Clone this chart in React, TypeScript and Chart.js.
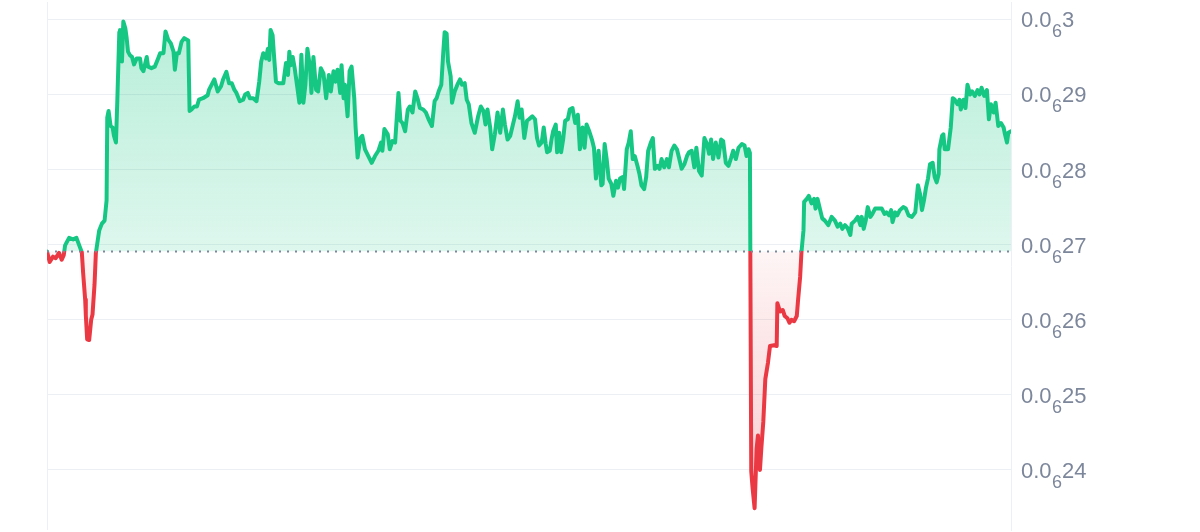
import React, { useEffect, useRef } from "react";
import { Chart, registerables } from "chart.js";

Chart.register(...registerables);

// minutes since the start of the day
const TIMES = [0,4,9,13,18,22,25,27,33,39,44,49,52,54,57,58,60,63,66,68,71,73,74,78,82,86,89,90,92,95,98,100,103,105,108,109,112,114,117,119,121,124,127,130,134,139,141,144,149,151,156,161,166,169,174,177,181,185,189,191,194,197,201,205,209,211,213,216,220,224,227,233,240,242,246,250,255,260,263,268,272,276,280,283,288,293,296,300,303,308,313,317,320,323,327,330,332,334,337,339,342,346,353,357,360,362,364,367,370,374,377,380,383,386,389,393,395,398,402,405,409,413,417,421,424,428,431,434,438,440,443,445,449,452,455,459,461,464,468,471,475,480,485,490,495,499,501,504,509,512,516,520,525,528,531,535,539,542,546,550,554,557,562,566,570,575,579,582,585,589,592,594,597,599,603,605,609,613,617,620,624,627,630,634,639,644,648,652,655,658,662,665,669,673,677,681,684,688,692,696,699,703,706,709,713,717,720,725,729,732,735,739,742,745,747,751,754,756,760,762,765,768,771,774,778,781,785,789,793,796,800,803,806,810,814,817,820,824,828,830,833,836,839,843,846,850,853,856,860,862,866,869,872,875,878,882,885,888,892,895,898,902,905,908,912,915,918,922,926,929,933,937,941,944,948,952,956,959,963,967,970,974,978,982,986,989,992,995,999,1003,1007,1010,1014,1018,1022,1025,1029,1033,1038,1042,1045,1048,1050,1052,1054,1057,1060,1062,1065,1067,1070,1073,1077,1080,1086,1090,1091,1095,1099,1102,1106,1109,1112,1116,1120,1122,1125,1127,1130,1131,1135,1138,1142,1146,1148,1151,1155,1158,1162,1167,1172,1177,1181,1185,1188,1192,1196,1200,1202,1207,1211,1215,1217,1220,1223,1226,1230,1233,1237,1242,1247,1251,1254,1258,1261,1263,1267,1270,1274,1279,1283,1287,1292,1297,1301,1304,1307,1310,1313,1316,1319,1323,1326,1329,1332,1333,1337,1339,1341,1346,1350,1353,1356,1360,1363,1365,1369,1372,1375,1379,1382,1386,1390,1393,1396,1400,1404,1407,1410,1414,1417,1421,1425,1429,1431,1434,1436,1440];

// price in units of 1e-8
const PRICES_E8 = [26.91,26.77,26.84,26.82,26.89,26.80,26.86,26.99,27.09,27.07,27.09,26.97,26.90,26.62,26.27,26.06,25.74,25.73,26.00,26.07,26.47,26.89,26.95,27.19,27.28,27.32,27.59,28.69,28.78,28.58,28.56,28.45,28.36,28.91,29.83,29.86,29.44,29.97,29.88,29.75,29.57,29.52,29.50,29.40,29.48,29.48,29.35,29.31,29.50,29.37,29.35,29.37,29.48,29.55,29.55,29.84,29.73,29.68,29.57,29.33,29.55,29.55,29.70,29.75,29.73,29.72,28.78,28.80,28.84,28.84,28.93,28.95,28.99,29.06,29.13,29.20,29.04,29.11,29.20,29.30,29.15,29.15,29.06,29.02,28.91,28.93,29.00,29.02,28.95,28.95,28.91,29.17,29.44,29.55,29.48,29.61,29.46,29.86,29.79,29.53,29.17,29.15,29.15,29.42,29.26,29.57,29.39,29.50,29.35,29.09,28.89,29.53,28.89,29.13,29.61,29.35,29.02,29.50,29.06,29.04,29.35,29.28,28.95,29.26,29.04,29.31,29.17,29.33,29.02,29.39,28.95,29.13,28.71,29.31,29.37,28.95,28.56,28.16,28.42,28.45,28.27,28.18,28.09,28.18,28.25,28.36,28.25,28.54,28.47,28.27,28.38,28.36,29.02,28.65,28.62,28.51,28.80,28.84,28.76,29.04,28.93,28.82,28.80,28.76,28.67,28.58,28.91,28.95,29.04,29.13,29.57,29.83,29.81,29.44,29.24,28.89,29.04,29.13,29.20,29.13,29.15,28.93,28.87,28.62,28.49,28.71,28.84,28.78,28.60,28.80,28.56,28.27,28.47,28.76,28.49,28.80,28.60,28.40,28.45,28.60,28.71,28.91,28.69,28.80,28.42,28.65,28.67,28.71,28.67,28.42,28.32,28.36,28.56,28.34,28.23,28.25,28.42,28.51,28.60,28.23,28.49,28.23,28.40,28.65,28.67,28.80,28.82,28.62,28.73,28.27,28.56,28.29,28.60,28.51,28.40,28.29,27.88,28.25,27.79,27.81,28.34,28.14,27.88,27.81,27.65,27.85,27.76,27.88,27.90,27.74,28.27,28.36,28.51,28.14,28.18,28.05,27.94,27.79,27.74,27.90,28.25,28.36,28.42,28.01,28.05,28.01,28.14,28.03,28.14,28.03,28.25,28.32,28.27,28.16,28.01,28.07,28.18,28.23,28.25,28.03,28.29,27.98,27.92,28.42,28.34,28.21,28.40,28.14,28.36,28.16,28.40,28.38,28.09,28.05,28.16,28.25,28.14,28.29,28.34,28.32,28.18,28.27,28.22,23.98,23.76,23.49,24.28,24.46,24.00,24.28,24.64,25.21,25.43,25.65,25.66,25.65,26.22,26.11,26.13,26.05,26.02,25.96,26.00,25.98,26.05,26.27,26.57,26.90,27.19,27.57,27.61,27.65,27.55,27.61,27.48,27.61,27.46,27.35,27.32,27.26,27.37,27.32,27.24,27.28,27.21,27.26,27.22,27.13,27.28,27.32,27.37,27.26,27.37,27.21,27.32,27.50,27.37,27.41,27.48,27.48,27.48,27.41,27.43,27.39,27.46,27.30,27.43,27.39,27.46,27.50,27.48,27.39,27.37,27.43,27.79,27.68,27.46,27.59,27.76,27.88,28.07,28.09,27.90,27.83,27.94,28.27,28.45,28.47,28.27,28.27,28.56,28.95,28.93,28.87,28.93,28.80,28.93,28.82,29.13,29.00,29.04,28.98,29.06,29.00,29.09,28.98,29.06,28.67,28.87,28.76,28.89,28.58,28.62,28.56,28.47,28.36,28.49,28.51];

const UNIT = 1e-8;
const TICK_VALUES_E8 = [24, 25, 26, 27, 28, 29, 30];
const TICK_PREFIX = "0.0";
const TICK_ZERO_COUNT = "6";
const TICK_DIGITS = ["24", "25", "26", "27", "28", "29", "3"];
const Y_MIN_E8 = 23.2005;
const Y_MAX_E8 = 30.2313;

const GREEN = "#16c784";
const RED = "#ea3943";
const GRID = "#eceff3";
const LABEL = "#7d879b";
const FONT = "'Liberation Sans', Arial, sans-serif";

export default function App() {
  const ref = useRef<HTMLCanvasElement>(null);

  useEffect(() => {
    const canvas = ref.current;
    if (!canvas) return;
    const prices = PRICES_E8.map((v) => v * UNIT);
    const base = prices[0];
    const points = TIMES.map((t, i) => ({ x: t, y: prices[i] }));

    const overlay = {
      id: "overlay",
      beforeDatasetsDraw(chart: any) {
        const { ctx, chartArea } = chart;
        ctx.save();
        ctx.strokeStyle = GRID;
        ctx.lineWidth = 1;
        ctx.beginPath();
        ctx.moveTo(chartArea.left + 0.5, chartArea.top);
        ctx.lineTo(chartArea.left + 0.5, chartArea.bottom);
        ctx.stroke();
        ctx.restore();
      },
      afterDatasetsDraw(chart: any) {
        const { ctx, chartArea, scales } = chart;
        const by = scales.y.getPixelForValue(base);
        ctx.save();
        ctx.setLineDash([2, 6]);
        ctx.strokeStyle = LABEL;
        ctx.lineWidth = 2;
        ctx.beginPath();
        ctx.moveTo(chartArea.left, by);
        ctx.lineTo(chartArea.right, by);
        ctx.stroke();
        ctx.restore();
      },
      afterDraw(chart: any) {
        const { ctx, chartArea, scales } = chart;
        ctx.save();
        ctx.fillStyle = LABEL;
        ctx.textBaseline = "alphabetic";
        ctx.textAlign = "left";
        TICK_VALUES_E8.forEach((v, i) => {
          const py = scales.y.getPixelForValue(v * UNIT);
          let x = chartArea.right + 10;
          ctx.font = `22px ${FONT}`;
          ctx.fillText(TICK_PREFIX, x, py + 8);
          x += ctx.measureText(TICK_PREFIX).width;
          ctx.font = `18px ${FONT}`;
          ctx.fillText(TICK_ZERO_COUNT, x + 0.5, py + 18);
          x += ctx.measureText(TICK_ZERO_COUNT).width + 0.5;
          ctx.font = `22px ${FONT}`;
          ctx.fillText(TICK_DIGITS[i], x, py + 8);
        });
        ctx.restore();
      },
    };

    const chart = new Chart(canvas, {
      type: "line",
      data: {
        datasets: [
          {
            data: points,
            borderColor: GREEN,
            borderWidth: 4,
            borderJoinStyle: "round",
            borderCapStyle: "round",
            pointRadius: 0,
            pointHoverRadius: 0,
            tension: 0,
            fill: { target: { value: base }, above: "rgba(22,199,132,0.2)", below: "rgba(234,57,67,0.1)" },
          } as any,
        ],
      },
      options: {
        animation: false,
        responsive: true,
        maintainAspectRatio: false,
        layout: { padding: { left: 47, top: 0, right: 0, bottom: 0 } },
        plugins: { legend: { display: false }, tooltip: { enabled: false } },
        events: [],
        scales: {
          x: { type: "linear", min: 0, max: 1440, display: false },
          y: {
            position: "right",
            min: Y_MIN_E8 * UNIT,
            max: Y_MAX_E8 * UNIT,
            afterBuildTicks: (s: any) => {
              s.ticks = TICK_VALUES_E8.map((v) => ({ value: v * UNIT }));
            },
            afterFit: (s: any) => {
              s.width = 189;
            },
            ticks: { display: false },
            grid: { color: GRID, lineWidth: 1, drawTicks: false },
            border: { display: true, color: GRID },
          },
        },
      },
      plugins: [overlay],
    });

    const area = chart.chartArea;
    const by = chart.scales.y.getPixelForValue(base);
    const c = chart.ctx;
    const f = Math.min(1, Math.max(0, (by - area.top) / (area.bottom - area.top)));
    const stroke = c.createLinearGradient(0, area.top, 0, area.bottom);
    stroke.addColorStop(0, GREEN);
    stroke.addColorStop(f, GREEN);
    stroke.addColorStop(f, RED);
    stroke.addColorStop(1, RED);
    const above = c.createLinearGradient(0, area.top, 0, by);
    above.addColorStop(0, "rgba(22,199,132,0.32)");
    above.addColorStop(1, "rgba(22,199,132,0.14)");
    const below = c.createLinearGradient(0, by, 0, area.bottom);
    below.addColorStop(0, "rgba(234,57,67,0.05)");
    below.addColorStop(1, "rgba(234,57,67,0.28)");
    const ds: any = chart.data.datasets[0];
    ds.borderColor = stroke;
    ds.fill = { target: { value: base }, above, below };
    chart.update("none");

    return () => chart.destroy();
  }, []);

  return (
    <div style={{ position: "fixed", left: 0, top: 0, width: 1200, height: 532, background: "#fff" }}>
      <canvas ref={ref} />
    </div>
  );
}
